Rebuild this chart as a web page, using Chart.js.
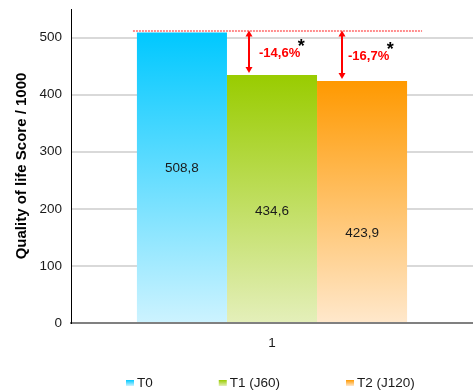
<!DOCTYPE html>
<html>
<head>
<meta charset="utf-8">
<script src="https://cdn.jsdelivr.net/npm/chart.js@4"></script>
<style>
  html, body { margin: 0; padding: 0; background: #fff; }
  #wrap { width: 473px; height: 391px; position: relative; }
</style>
</head>
<body>
<div id="wrap"><canvas id="chart"></canvas></div>
<script>
// data
const categories = ['1']
const seriesNames = ['T0', 'T1 (J60)', 'T2 (J120)']
const seriesValues = [508.8, 434.6, 423.9]
const valueLabels = ['508,8', '434,6', '423,9']
const changeLabels = ['', '-14,6%', '-16,7%']
const refValue = 512
const yTicks = [0, 100, 200, 300, 400, 500]
const yMax = 550

// styles
const FONT = '"Liberation Sans", Arial, sans-serif'
const topColors = ['#00c8ff', '#99cc00', '#ff9900']
const bottomColors = ['#cdf3ff', '#e4efba', '#ffe8cc']
const labelFrac = [0.47, 0.55, 0.63]
const arrowOffset = [0, 22, 25]
const textOffset = [0, 10, 6]

const barGradient = (i) => (context) => {
    const chart = context.chart
    const y = chart.scales.y
    if (!chart.chartArea || !y) return topColors[i]
    const g = chart.ctx.createLinearGradient(0, y.getPixelForValue(seriesValues[i]), 0, y.getPixelForValue(0))
    g.addColorStop(0, topColors[i])
    g.addColorStop(1, bottomColors[i])
    return g
}

const drawArrow = (ctx, x, y1, y2) => {
    const head = 6, half = 3.5
    ctx.strokeStyle = '#ff0000'
    ctx.fillStyle = '#ff0000'
    ctx.lineWidth = 2
    ctx.beginPath()
    ctx.moveTo(x, y1 + head - 1)
    ctx.lineTo(x, y2 - head + 1)
    ctx.stroke()
    ctx.beginPath()
    ctx.moveTo(x, y1); ctx.lineTo(x - half, y1 + head); ctx.lineTo(x + half, y1 + head)
    ctx.closePath(); ctx.fill()
    ctx.beginPath()
    ctx.moveTo(x, y2); ctx.lineTo(x - half, y2 - head); ctx.lineTo(x + half, y2 - head)
    ctx.closePath(); ctx.fill()
}

const annotations = {
    id: 'annotations',
    afterDatasetsDraw(chart) {
        const ctx = chart.ctx
        const y = chart.scales.y
        const bars = seriesValues.map((v, i) => chart.getDatasetMeta(i).data[0])
        const refY = Math.round(y.getPixelForValue(refValue))
        ctx.save()

        // values inside the bars
        ctx.font = '13.5px ' + FONT
        ctx.fillStyle = '#1a1a1a'
        ctx.textAlign = 'center'
        ctx.textBaseline = 'middle'
        bars.forEach((b, i) => {
            ctx.fillText(valueLabels[i], b.x, b.y + (b.base - b.y) * labelFrac[i])
        })

        // dotted reference line
        const left = bars[0].x - bars[0].width / 2 - 4
        const right = bars[2].x + bars[2].width / 2 + 15
        ctx.strokeStyle = 'rgb(255, 30, 30)'
        ctx.lineWidth = 1.2
        ctx.setLineDash([2, 1])
        ctx.beginPath()
        ctx.moveTo(left, refY)
        ctx.lineTo(right, refY)
        ctx.stroke()
        ctx.setLineDash([])

        // arrows + percentages
        for (let i = 1; i < bars.length; i++) {
            const b = bars[i]
            const x = Math.round(b.x - b.width / 2 + arrowOffset[i])
            drawArrow(ctx, x, refY - 0.5, b.y - 2)
            const midY = (refY + b.y) / 2
            ctx.font = 'bold 13px ' + FONT
            ctx.fillStyle = '#ff0000'
            ctx.textAlign = 'left'
            ctx.textBaseline = 'middle'
            const tx = x + textOffset[i]
            ctx.fillText(changeLabels[i], tx, midY)
            const w = ctx.measureText(changeLabels[i]).width
            ctx.font = 'bold 18px ' + FONT
            ctx.fillStyle = '#000'
            ctx.textAlign = 'center'
            ctx.textBaseline = 'alphabetic'
            ctx.fillText('*', tx + w + 1, midY - 1)
        }
        ctx.restore()
    }
}

const customLegend = {
    id: 'customLegend',
    afterDraw(chart) {
        const ctx = chart.ctx
        const area = chart.chartArea
        const gap = 66, box = 8, boxH = 6, space = 3
        ctx.save()
        ctx.font = '13.5px ' + FONT
        const widths = seriesNames.map(n => box + space + ctx.measureText(n).width)
        const total = widths.reduce((a, b) => a + b, 0) + gap * (seriesNames.length - 1)
        let x = Math.round((area.left + area.right) / 2 - total / 2 - 2)
        const cy = chart.height - 8
        seriesNames.forEach((name, i) => {
            const g = ctx.createLinearGradient(0, cy - boxH / 2, 0, cy + boxH / 2)
            g.addColorStop(0, topColors[i])
            g.addColorStop(1, bottomColors[i])
            ctx.fillStyle = g
            ctx.fillRect(x, cy - boxH / 2, box, boxH)
            ctx.fillStyle = '#1a1a1a'
            ctx.textAlign = 'left'
            ctx.textBaseline = 'middle'
            ctx.fillText(name, x + box + space, cy)
            x += widths[i] + gap
        })
        ctx.restore()
    }
}

new Chart(document.getElementById('chart'), {
    type: 'bar',
    data: {
        labels: categories,
        datasets: seriesNames.map((name, i) => ({
            label: name,
            data: [seriesValues[i]],
            backgroundColor: barGradient(i),
            borderWidth: 0,
            barPercentage: 1,
            categoryPercentage: 0.672
        }))
    },
    options: {
        responsive: true,
        maintainAspectRatio: false,
        animation: false,
        layout: { padding: { top: 9, right: 0, left: 0, bottom: 28 } },
        plugins: {
            legend: { display: false },
            tooltip: { enabled: false }
        },
        scales: {
            x: {
                grid: { display: false, drawTicks: false },
                border: { color: '#808080', width: 2 },
                ticks: { color: '#1a1a1a', font: { family: FONT, size: 13.5 }, padding: 12 },
                afterFit: (s) => { s.height = 40 }
            },
            y: {
                min: 0,
                max: yMax,
                afterBuildTicks: (s) => { s.ticks = yTicks.map(v => ({ value: v })) },
                grid: { color: '#d9d9d9', lineWidth: 2, drawTicks: false },
                border: { color: '#000', width: 1 },
                ticks: { color: '#1a1a1a', font: { family: FONT, size: 13.5 }, padding: 9 },
                title: {
                    display: true,
                    text: 'Quality of life Score / 1000',
                    color: '#000',
                    font: { family: FONT, size: 15, weight: 'bold' },
                    padding: { top: 13, bottom: 0 }
                },
                afterFit: (s) => { s.width = 71; s.paddingTop = 0; s.paddingBottom = 0 }
            }
        }
    },
    plugins: [annotations, customLegend]
})
</script>
</body>
</html>
